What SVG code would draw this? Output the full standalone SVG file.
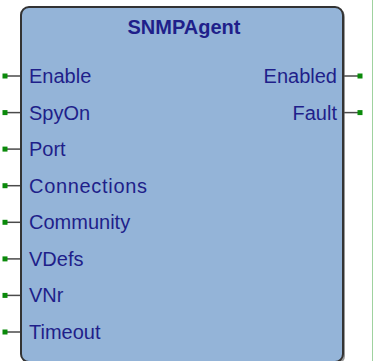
<svg xmlns="http://www.w3.org/2000/svg" width="374" height="361" viewBox="0 0 374 361">
<style>
.lbl{font-family:"Liberation Sans",Arial,sans-serif;font-size:20px;fill:#1f1f8a}
.ttl{font-family:"Liberation Sans",Arial,sans-serif;font-size:20px;font-weight:bold;fill:#1f1f8a}
.pin{stroke:#4a4a4a;stroke-width:1.5}
.dot{fill:#0a8a0a}
</style>
<rect width="374" height="361" fill="#ffffff"/>
<line x1="372.5" y1="0" x2="372.5" y2="361" stroke="#9fd29f" stroke-width="1"/>
<g id="connectors">
<g class="pin">
<line x1="5" y1="76" x2="21" y2="76"/>
<line x1="5" y1="112.6" x2="21" y2="112.6"/>
<line x1="5" y1="149.1" x2="21" y2="149.1"/>
<line x1="5" y1="185.7" x2="21" y2="185.7"/>
<line x1="5" y1="222.3" x2="21" y2="222.3"/>
<line x1="5" y1="258.9" x2="21" y2="258.9"/>
<line x1="5" y1="295.4" x2="21" y2="295.4"/>
<line x1="5" y1="332" x2="21" y2="332"/>
<line x1="344" y1="76" x2="360" y2="76"/>
<line x1="344" y1="112.6" x2="360" y2="112.6"/>
</g>
<g class="dot">
<rect x="2.5" y="73.5" width="5" height="5"/>
<rect x="2.5" y="110.1" width="5" height="5"/>
<rect x="2.5" y="146.6" width="5" height="5"/>
<rect x="2.5" y="183.2" width="5" height="5"/>
<rect x="2.5" y="219.8" width="5" height="5"/>
<rect x="2.5" y="256.4" width="5" height="5"/>
<rect x="2.5" y="292.9" width="5" height="5"/>
<rect x="2.5" y="329.5" width="5" height="5"/>
<rect x="357.5" y="73.5" width="5" height="5"/>
<rect x="357.5" y="110.1" width="5" height="5"/>
</g>
</g>
<g id="SNMPAgent">
<rect x="23" y="9" width="322" height="355" rx="8" fill="#555" opacity="0.6"/>
<rect x="21" y="7" width="322" height="355" rx="8" fill="#94b4d8" stroke="#333" stroke-width="2"/>
<text class="ttl" x="184" y="34" text-anchor="middle">SNMPAgent</text>
<text class="lbl" x="29" y="83">Enable</text>
<text class="lbl" x="29" y="119.6">SpyOn</text>
<text class="lbl" x="29" y="156.1">Port</text>
<text class="lbl" x="29" y="192.7" textLength="118" lengthAdjust="spacing">Connections</text>
<text class="lbl" x="29" y="229.3">Community</text>
<text class="lbl" x="29" y="265.9">VDefs</text>
<text class="lbl" x="29" y="302.4">VNr</text>
<text class="lbl" x="29" y="339">Timeout</text>
<text class="lbl" x="337" y="83" text-anchor="end">Enabled</text>
<text class="lbl" x="337" y="119.6" text-anchor="end">Fault</text>
</g>
</svg>
